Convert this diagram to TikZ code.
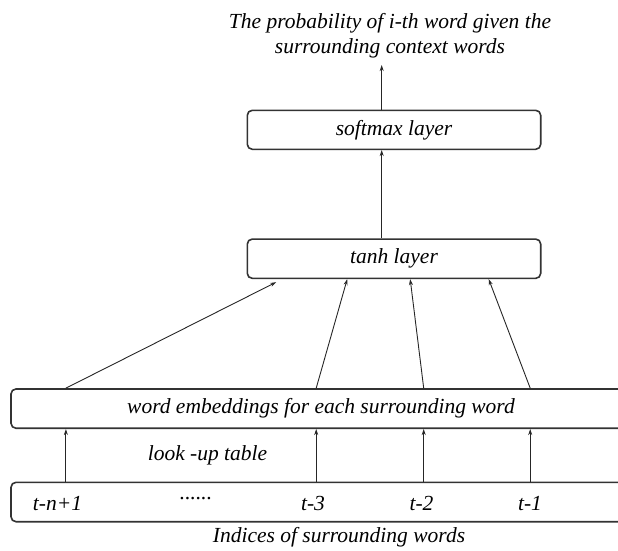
\documentclass[tikz,border=0pt]{standalone}
\usepackage{fontspec}
\setmainfont{Liberation Serif}
\usetikzlibrary{arrows.meta}
\begin{document}
\begin{tikzpicture}[x=1pt,y=-1pt,
  box/.style={draw=black!80, line width=1.6pt, rounded corners=5pt, inner sep=0pt,
    font=\fontsize{21.5}{25}\selectfont\itshape},
  lbl/.style={inner sep=0pt, font=\fontsize{21.5}{25}\selectfont\itshape},
  arr/.style={draw=black!85, line width=0.9pt, -{Stealth[length=6pt,width=4pt]}}]
\path[use as bounding box, clip] (0,0) rectangle (618,550);
% title
\node[lbl, align=center] (title) at (390,36) {The probability of i-th word given the\\surrounding context words};
\coordinate (ttip) at (381.7,65);
% boxes
\node[box, minimum width=293.4pt, minimum height=39pt] (soft) at (394,129.8) {softmax layer};
\node[box, minimum width=293.4pt, minimum height=39.3pt] (tanh) at (394,258.7) {tanh layer};
\node[box, minimum width=620pt, minimum height=39.3pt] (emb) at (321,408.6) {word embeddings for each surrounding word};
\node[box, minimum width=620pt, minimum height=39.4pt] (idx) at (321,502) {};
% labels
\node[lbl] (lut) at (207.5,455) {look -up table};
\node[lbl] (t1) at (57.5,503) {t-n+1};
\node[lbl] (dots) at (196,499) {......};
\node[lbl] (t3) at (313,503) {t-3};
\node[lbl] (t2) at (421.5,503) {t-2};
\node[lbl] (tm1) at (530,503) {t-1};
\node[lbl] (ind) at (339,537) {Indices of surrounding words};
% arrows
\draw[arr] ([xshift=-12.3pt]soft.north) -- (ttip);
\draw[arr] ([xshift=-12.3pt]tanh.north) -- ([xshift=-12.3pt]soft.south);
\draw[arr] ([xshift=55.7pt]emb.north west) -- ([xshift=29.7pt,yshift=-3pt]tanh.south west);
\draw[arr] ([xshift=306pt]emb.north west) -- ([xshift=100.7pt]tanh.south west);
\draw[arr] ([xshift=413.5pt]emb.north west) -- ([xshift=163.7pt]tanh.south west);
\draw[arr] ([xshift=520pt]emb.north west) -- ([xshift=242.2pt]tanh.south west);
\draw[arr] ([xshift=55.7pt]idx.north west) -- ([xshift=55.7pt]emb.south west);
\draw[arr] ([xshift=306pt]idx.north west) -- ([xshift=306pt]emb.south west);
\draw[arr] ([xshift=413.5pt]idx.north west) -- ([xshift=413.5pt]emb.south west);
\draw[arr] ([xshift=520pt]idx.north west) -- ([xshift=520pt]emb.south west);
\end{tikzpicture}
\end{document}
